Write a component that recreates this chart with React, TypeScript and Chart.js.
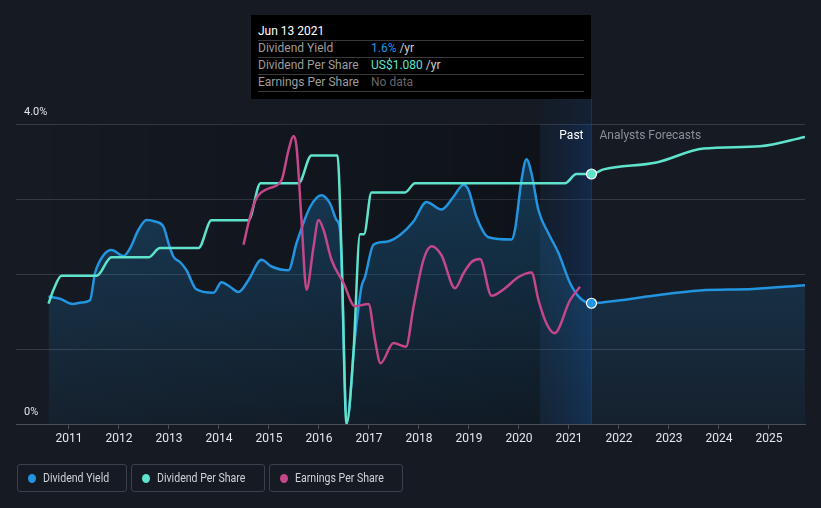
import React, { useEffect, useRef } from "react";
import { Chart, registerables } from "chart.js";

Chart.register(...registerables);

// ---- data ----
const yieldYears = [
  2010.59, 2010.82, 2011.07, 2011.25, 2011.42, 2011.52, 2011.69, 2011.85, 2012.09, 2012.22,
  2012.39, 2012.55, 2012.72, 2012.89, 2012.99, 2013.09, 2013.22, 2013.35, 2013.54, 2013.89,
  2014.05, 2014.22, 2014.39, 2014.59, 2014.85, 2015.05, 2015.39, 2015.55, 2015.82, 2016.05,
  2016.22, 2016.35, 2016.42, 2016.56, 2016.72, 2016.85, 2016.92, 2017.09, 2017.35, 2017.62,
  2017.89, 2018.15, 2018.45, 2018.69, 2018.89, 2018.99, 2019.15, 2019.39, 2019.85, 2019.92,
  2020.05, 2020.15, 2020.25, 2020.39, 2020.59, 2020.79, 2021.02, 2021.22, 2021.45,
  2022.02, 2022.68, 2023.62, 2024.68, 2025.72,
];
const yieldValues = [
  1.70, 1.67, 1.60, 1.62, 1.65, 2.01, 2.25, 2.32, 2.24, 2.34,
  2.59, 2.72, 2.70, 2.63, 2.41, 2.23, 2.16, 2.05, 1.80, 1.75,
  1.89, 1.83, 1.76, 1.92, 2.19, 2.10, 2.05, 2.41, 2.89, 3.05,
  2.94, 2.72, 2.59, 0.05, 1.16, 1.83, 1.96, 2.39, 2.43, 2.52,
  2.70, 2.96, 2.86, 3.03, 3.19, 3.12, 2.76, 2.49, 2.46, 2.59,
  3.25, 3.53, 3.34, 2.85, 2.54, 2.28, 1.88, 1.68, 1.61,
  1.65, 1.71, 1.78, 1.80, 1.85,
];

const dpsYears = [
  2010.59, 2010.69, 2010.85, 2011.55, 2011.85, 2012.59, 2012.82, 2013.59, 2013.85, 2014.59,
  2014.83, 2015.59, 2015.85, 2016.37, 2016.45, 2016.55, 2016.69, 2016.82, 2016.9, 2017.05,
  2017.72, 2017.92, 2020.92, 2021.15, 2021.45,
  2021.69, 2022.75, 2023.69, 2024.82, 2025.72,
];
const dpsValues = [
  0.52, 0.58, 0.64, 0.64, 0.72, 0.72, 0.76, 0.76, 0.88, 0.88,
  1.04, 1.04, 1.16, 1.16, 0.74, 0.0, 0.31, 0.82, 0.82, 1.0,
  1.0, 1.04, 1.04, 1.08, 1.08,
  1.10, 1.13, 1.19, 1.20, 1.24,
];

const epsYears = [
  2014.49, 2014.62, 2014.75, 2014.99, 2015.25, 2015.39, 2015.49, 2015.55, 2015.65, 2015.75,
  2015.89, 2015.99, 2016.09, 2016.25, 2016.49, 2016.72, 2016.99, 2017.12, 2017.23, 2017.49,
  2017.74, 2017.89, 2018.09, 2018.25, 2018.45, 2018.72, 2018.89, 2019.05, 2019.22, 2019.45,
  2019.72, 2019.99, 2020.25, 2020.39, 2020.55, 2020.71, 2021.02, 2021.22,
];
const epsValues = [
  2.39, 2.76, 3.01, 3.14, 3.25, 3.65, 3.84, 3.70, 2.72, 1.79,
  2.36, 2.72, 2.59, 2.19, 1.88, 1.57, 1.60, 1.12, 0.81, 1.08,
  1.03, 1.56, 2.19, 2.37, 2.25, 1.81, 2.01, 2.16, 2.20, 1.71,
  1.81, 1.96, 2.02, 1.65, 1.34, 1.21, 1.65, 1.83,
];

const xTickYears = [2011, 2012, 2013, 2014, 2015, 2016, 2017, 2018, 2019, 2020, 2021, 2022, 2023, 2024, 2025];
const yLabelValues = [0, 4];
const yLabelTexts = ["0%", "4.0%"];
const xMin = 2009.94;
const xMax = 2025.72;
const currentYear = 2021.45;
const pastBandStart = 2020.42;

const legendItems = [
  { label: "Dividend Yield", color: "#2394e0", width: 110 },
  { label: "Dividend Per Share", color: "#5fe3cc", width: 134 },
  { label: "Earnings Per Share", color: "#c4478a", width: 134 },
];

const BG = "#151a23";

const bgPlugin = {
  id: "bgPlugin",
  beforeDatasetsDraw(chart: any) {
    const { ctx, chartArea, scales } = chart;
    const x = scales.x;
    const startPx = x.getPixelForValue(yieldYears[0]);
    const bandL = x.getPixelForValue(pastBandStart);
    const bandR = x.getPixelForValue(currentYear);
    ctx.save();
    const g = ctx.createLinearGradient(startPx, 0, bandL, 0);
    g.addColorStop(0, "rgba(0,0,0,0)");
    g.addColorStop(1, "rgba(0,0,0,0.28)");
    ctx.fillStyle = g;
    ctx.fillRect(startPx, chartArea.top, bandL - startPx, chartArea.bottom - chartArea.top);
    const b = ctx.createLinearGradient(bandL, 0, bandR, 0);
    b.addColorStop(0, "rgba(15,50,95,0.12)");
    b.addColorStop(1, "rgba(15,70,140,0.38)");
    ctx.fillStyle = b;
    ctx.fillRect(bandL, chartArea.top, bandR - bandL, chartArea.bottom - chartArea.top);
    const b2 = ctx.createLinearGradient(bandL, 0, bandR, 0);
    b2.addColorStop(0, "rgba(15,50,95,0.06)");
    b2.addColorStop(1, "rgba(15,70,140,0.18)");
    ctx.fillStyle = b2;
    ctx.fillRect(bandL, 99, bandR - bandL, chartArea.top - 99);
    ctx.fillStyle = "rgba(35,70,120,0.5)";
    ctx.fillRect(bandR - 0.5, 99, 1, chartArea.bottom - 99);
    ctx.restore();
  },
  afterDatasetsDraw(chart: any) {
    const { ctx, chartArea, scales } = chart;
    const y = scales.y;
    const bandR = scales.x.getPixelForValue(currentYear);
    ctx.save();
    ctx.font = "12px Roboto, sans-serif";
    ctx.textBaseline = "middle";
    ctx.fillStyle = "#ffffff";
    ctx.textAlign = "right";
    ctx.fillText("Past", bandR - 8, 136);
    ctx.textAlign = "left";
    ctx.fillStyle = "#8b9098";
    ctx.fillText("Analysts Forecasts", bandR + 8, 136);
    ctx.fillStyle = "#e2e4e8";
    ctx.font = "11px Roboto, sans-serif";
    yLabelValues.forEach((v, i) => {
      ctx.fillText(yLabelTexts[i], chartArea.left + 8, y.getPixelForValue(v) - 12);
    });
    ctx.restore();
  },
};

function pts(xs: number[], ys: number[]) {
  return xs.map((x, i) => ({ x, y: ys[i] }));
}

export default function App() {
  const ref = useRef<HTMLCanvasElement | null>(null);
  useEffect(() => {
    if (!ref.current) return;
    const markR = (c: any) => (c.raw && c.raw.x === currentYear ? 5 : 0);
    const chart = new Chart(ref.current, {
      type: "line",
      data: {
        datasets: [
          {
            label: "Earnings Per Share",
            data: pts(epsYears, epsValues),
            yAxisID: "yEps",
            borderColor: "#c4478a",
            borderWidth: 2.5,
            pointRadius: 0,
            cubicInterpolationMode: "monotone",
            fill: false,
            order: 1,
          },
          {
            label: "Dividend Per Share",
            data: pts(dpsYears, dpsValues),
            yAxisID: "yDps",
            borderColor: "#5fe3cc",
            borderWidth: 2.5,
            pointRadius: markR,
            pointBackgroundColor: "#5fe3cc",
            pointBorderColor: "#ffffff",
            pointBorderWidth: 1.2,
            cubicInterpolationMode: "monotone",
            fill: false,
            order: 2,
          },
          {
            label: "Dividend Yield",
            data: pts(yieldYears, yieldValues),
            yAxisID: "y",
            borderColor: "#2394e0",
            borderWidth: 2.5,
            pointRadius: markR,
            pointBackgroundColor: "#2394e0",
            pointBorderColor: "#ffffff",
            pointBorderWidth: 1.2,
            cubicInterpolationMode: "monotone",
            fill: "origin",
            backgroundColor: (c: any) => {
              const ca = c.chart.chartArea;
              if (!ca) return "rgba(35,148,224,0.15)";
              const g = c.chart.ctx.createLinearGradient(0, ca.top, 0, ca.bottom);
              g.addColorStop(0, "rgba(35,148,224,0.32)");
              g.addColorStop(1, "rgba(35,148,224,0.06)");
              return g;
            },
            order: 3,
          },
        ],
      },
      options: {
        animation: false,
        responsive: false,
        layout: { padding: { left: 16, right: 16, top: 124, bottom: 0 } },
        plugins: { legend: { display: false }, tooltip: { enabled: false } },
        scales: {
          x: {
            type: "linear",
            min: xMin,
            max: xMax,
            afterBuildTicks: (s: any) => {
              s.ticks = xTickYears.map((v) => ({ value: v }));
            },
            afterFit: (s: any) => {
              s.height = 84;
            },
            ticks: {
              autoSkip: false,
              maxRotation: 0,
              color: "#e6e8eb",
              padding: 3,
              font: { family: "Roboto, sans-serif", size: 12 },
              callback: (v: any) => String(v),
            },
            grid: { drawOnChartArea: false, color: "#4a4f58", tickLength: 5 },
            border: { color: "#4a4f58" },
          },
          y: {
            type: "linear",
            min: 0,
            max: 4,
            position: "left",
            afterBuildTicks: (s: any) => {
              s.ticks = [0, 1, 2, 3, 4].map((v) => ({ value: v }));
            },
            afterFit: (s: any) => {
              s.width = 0;
            },
            ticks: { display: false },
            grid: { color: "rgba(255,255,255,0.14)", drawTicks: false },
            border: { display: false },
          },
          yDps: { type: "linear", display: false, min: 0, max: 1.296 },
          yEps: { type: "linear", display: false, min: 0, max: 4 },
        },
      },
      plugins: [bgPlugin],
    } as any);
    return () => chart.destroy();
  }, []);

  const rowStyle: React.CSSProperties = {
    position: "absolute",
    left: 7,
    right: 7,
    height: 17,
    borderBottom: "1px solid #3a3a3a",
    fontSize: 12,
    lineHeight: "17px",
  };

  return (
    <div style={{ position: "fixed", left: 0, top: 0, width: 821, height: 508, background: BG, fontFamily: "Roboto, sans-serif" }}>
      <canvas ref={ref} width={821} height={508} style={{ position: "absolute", left: 0, top: 0 }} />
      <div style={{ position: "absolute", left: 251, top: 15, width: 340, height: 84, background: "#000" }}>
        <div style={{ ...rowStyle, top: 8, color: "#fff" }}>Jun 13 2021</div>
        <div style={{ ...rowStyle, top: 25, color: "#9d9d9d" }}>
          Dividend Yield
          <span style={{ position: "absolute", left: 113, color: "#2394e0" }}>
            1.6% <span style={{ color: "#cfcfcf" }}>/yr</span>
          </span>
        </div>
        <div style={{ ...rowStyle, top: 42, color: "#9d9d9d" }}>
          Dividend Per Share
          <span style={{ position: "absolute", left: 113, color: "#5fe3cc" }}>
            US$1.080 <span style={{ color: "#cfcfcf" }}>/yr</span>
          </span>
        </div>
        <div style={{ ...rowStyle, top: 59, color: "#9d9d9d" }}>
          Earnings Per Share
          <span style={{ position: "absolute", left: 113, color: "#666" }}>No data</span>
        </div>
      </div>
      <div style={{ position: "absolute", left: 17, top: 464, display: "flex", gap: 4 }}>
        {legendItems.map((it) => (
          <div
            key={it.label}
            style={{
              position: "relative",
              width: it.width,
              height: 28,
              border: "1px solid #3b414b",
              borderRadius: 3,
              boxSizing: "border-box",
              color: "#d0d3d8",
              fontSize: 12,
              overflow: "hidden",
            }}
          >
            <span
              style={{
                position: "absolute",
                left: 10,
                top: 9,
                width: 8,
                height: 9,
                borderRadius: "50%",
                background: it.color,
              }}
            />
            <span
              style={{
                position: "absolute",
                left: 25,
                top: 0,
                lineHeight: "26px",
                whiteSpace: "nowrap",
                transform: "scaleX(0.88)",
                transformOrigin: "left center",
              }}
            >
              {it.label}
            </span>
          </div>
        ))}
      </div>
    </div>
  );
}
